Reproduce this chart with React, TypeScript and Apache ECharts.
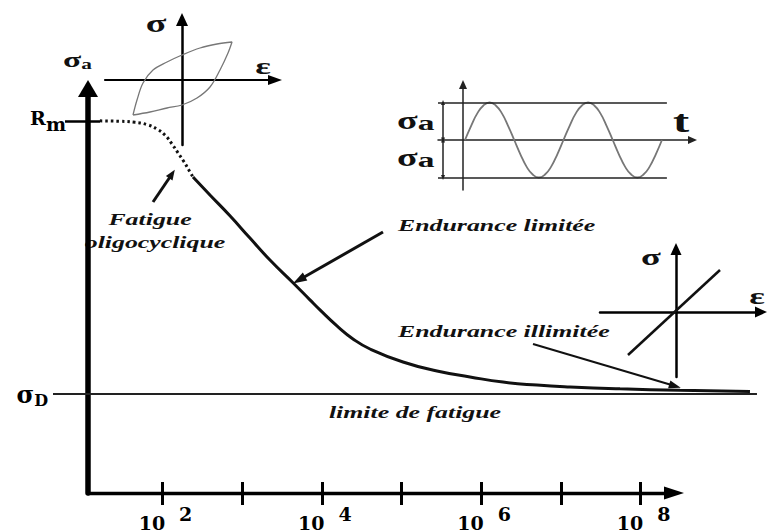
import React, { useEffect, useRef } from 'react';
import * as echarts from 'echarts';

// ---- Main Wöhler curve: x = log10(N), y = stress amplitude σa (Rm = 100) ----
const oligoLogN = [1.215, 1.467, 1.655, 1.805, 1.931, 2.031, 2.119, 2.195, 2.27, 2.345, 2.383];
const oligoStress = [100, 99.9, 99.6, 99.0, 97.8, 96.2, 93.8, 91.4, 89.0, 86.3, 84.9];
const enduranceLogN = [2.383, 2.596, 2.847, 3.098, 3.349, 3.638, 3.851, 3.977, 4.19, 4.391, 4.605, 5.019, 5.446, 5.86, 6.274, 6.701, 7.115, 7.743, 8.496, 9.374];
const enduranceStress = [84.9, 80.1, 74.5, 68.5, 62.6, 56.5, 51.9, 49.2, 44.9, 41.4, 38.7, 35.2, 32.8, 31.2, 29.8, 29.0, 28.5, 28.0, 27.6, 27.3];
const Rm = 100;
const sigmaD = 26.6;
const fatigueLimitLogN = [0.626, 9.462];
const xTickValues = [2, 3, 4, 5, 6, 7, 8];
const xLabelValues = [2, 4, 6, 8];

// ---- Inset: hysteresis loop (ε, σ) ----
const loopStrain = [-49, -45, -39, -29, -15, 0, 18, 35, 50, 46, 38, 28, 15, 0, -15, -32, -49];
const loopStress = [-35, -20, -3, 10, 18, 25, 32, 36, 38, 27, 10, -7, -18, -25, -28, -32, -35];

// ---- Inset: sinusoidal loading σ(t), amplitude σa = 1 ----
const sineT = [0.02, 0.0825, 0.145, 0.2075, 0.27, 0.3325, 0.395, 0.4575, 0.52, 0.5825, 0.645, 0.7075, 0.77, 0.8325, 0.895, 0.9575, 1.02, 1.0825, 1.145, 1.2075, 1.27, 1.3325, 1.395, 1.4575, 1.52, 1.5825, 1.645, 1.7075, 1.77, 1.8325, 1.895, 1.9575, 2.02];
const sineV = [0, 0.38, 0.71, 0.92, 1, 0.92, 0.71, 0.38, 0, -0.38, -0.71, -0.92, -1, -0.92, -0.71, -0.38, 0, 0.38, 0.71, 0.92, 1, 0.92, 0.71, 0.38, 0, -0.38, -0.71, -0.92, -1, -0.92, -0.71, -0.38, 0];
const sigmaA = 1;
const amplitudeLineT = [-0.254, 2.07];
const amplitudeArrowT = -0.203;

// ---- Inset: elastic line (ε, σ) ----
const elasticStrain = [-48, 44];
const elasticStress = [-43, 42];

const SERIF = 'Liberation Serif, Times New Roman, serif';
const WIDE = 'DejaVu Serif, serif';
const SX = 1.52;
const INK = '#111';

function zip(a: number[], b: number[]) {
  return a.map((v, i) => [v, b[i]]);
}

function txt(x: number, y: number, text: string, size: number, align: string, opts: any = {}) {
  return {
    type: 'text',
    x,
    y,
    scaleX: opts.scaleX ?? SX,
    silent: true,
    style: {
      text,
      fontFamily: SERIF,
      fontSize: size,
      fontWeight: 'bold',
      fontStyle: opts.italic ? 'italic' : 'normal',
      fill: opts.fill ?? INK,
      textAlign: align,
      align,
      textVerticalAlign: 'middle',
      verticalAlign: 'middle',
      rich: opts.rich,
    },
  };
}

const hiddenAxis = {
  axisTick: { show: false },
  axisLabel: { show: false },
  splitLine: { show: false },
};

function insetAxis(grid: number, min: number, max: number, width: number, arrow: number[], color = '#000') {
  return {
    type: 'value',
    gridIndex: grid,
    min,
    max,
    ...hiddenAxis,
    axisLine: {
      onZero: true,
      symbol: ['none', 'triangle'],
      symbolSize: arrow,
      lineStyle: { color, width },
    },
  };
}

const sigmaSubRich = (big: number, small: number, down: number) => ({
  s: { fontFamily: SERIF, fontWeight: 'bold', fontSize: big, fill: INK },
  a: { fontFamily: SERIF, fontWeight: 'bold', fontSize: small, fill: INK, padding: [down, 0, 0, 0] },
});

const option: any = {
  animation: false,
  backgroundColor: '#ffffff',
  grid: [
    { left: 88, right: 94, top: 88.5, bottom: 39 },
    { left: 105, right: 493, top: 19.5, bottom: 387 },
    { left: 438, right: 75.5, top: 84.5, bottom: 342 },
    { left: 600, right: 7, top: 249, bottom: 155 },
    // same log(N) scale as the visible axes, wider extent for the curve and σD line
    { left: 53, right: 8, top: 88.5, bottom: 39 },
  ],
  xAxis: [
    {
      type: 'value',
      gridIndex: 0,
      position: 'bottom',
      min: 1.065,
      max: 8.42,
      splitLine: { show: false },
      axisLine: {
        onZero: false,
        symbol: ['none', 'triangle'],
        symbolSize: [13, 20],
        lineStyle: { color: '#000', width: 3.3 },
      },
      axisTick: { show: true, customValues: xTickValues, length: 12, lineStyle: { color: '#000', width: 3 } },
      axisLabel: {
        show: true,
        customValues: xLabelValues,
        margin: 11,
        padding: [0, 0, 0, 6],
        formatter: (v: number) => `{b|10}{s|${v}}`,
        rich: {
          b: { fontFamily: WIDE, fontWeight: 'bold', fontSize: 19, color: '#000', padding: [0, 14, 0, 0] },
          s: { fontFamily: WIDE, fontWeight: 'bold', fontSize: 19, color: '#000', padding: [0, 0, 18, 0] },
        },
      },
    },
    {
      type: 'value',
      gridIndex: 0,
      position: 'bottom',
      min: 1.065,
      max: 8.42,
      splitLine: { show: false },
      axisLine: { show: false, onZero: false },
      axisLabel: { show: false },
      axisTick: { show: true, inside: true, customValues: xTickValues, length: 11, lineStyle: { color: '#000', width: 3 } },
    },
    insetAxis(1, -77, 93, 2.2, [10, 14]),
    insetAxis(2, -0.254, 2.33, 1.5, [8, 9], '#222'),
    insetAxis(3, -76, 85, 2.5, [11, 12]),
    { type: 'value', gridIndex: 4, min: 0.626, max: 9.5, show: false },
  ],
  yAxis: [
    {
      type: 'value',
      gridIndex: 0,
      position: 'left',
      min: 0,
      max: 108.7,
      splitLine: { show: false },
      axisLine: {
        onZero: false,
        symbol: ['none', 'triangle'],
        symbolSize: [20, 17],
        lineStyle: { color: '#000', width: 5.5 },
      },
      axisTick: { show: true, customValues: [Rm], length: 23, lineStyle: { color: '#000', width: 2.5 } },
      axisLabel: {
        show: true,
        customValues: [sigmaD, Rm],
        margin: 22,
        formatter: (v: number) => (v === Rm ? '{r|R}{m|m}' : '{s|σ}{d|D}'),
        rich: {
          r: { fontFamily: WIDE, fontWeight: 'bold', fontSize: 19, color: '#000', padding: [0, 0, 6, 0] },
          m: { fontFamily: WIDE, fontWeight: 'bold', fontSize: 19, color: '#000', padding: [6, 0, 0, 0] },
          s: { fontFamily: WIDE, fontWeight: 'bold', fontSize: 24, color: '#000' },
          d: { fontFamily: WIDE, fontWeight: 'bold', fontSize: 16, color: '#000', padding: [12, 18, 0, 0] },
        },
      },
    },
    {
      type: 'value',
      gridIndex: 0,
      position: 'left',
      min: 0,
      max: 108.7,
      splitLine: { show: false },
      axisLine: { show: false, onZero: false },
      axisLabel: { show: false },
      axisTick: { show: true, inside: true, customValues: [Rm], length: 12, lineStyle: { color: '#000', width: 2.5 } },
    },
    insetAxis(1, -65, 60.5, 2.5, [12, 13]),
    insetAxis(2, -1.333, 1.48, 1.5, [8, 9], '#222'),
    insetAxis(3, -65, 63, 2.5, [11, 12]),
    { type: 'value', gridIndex: 4, min: 0, max: 108.7, show: false },
  ],
  series: [
    {
      name: 'Fatigue oligocyclique',
      type: 'line',
      xAxisIndex: 5,
      yAxisIndex: 5,
      data: zip(oligoLogN, oligoStress),
      smooth: true,
      showSymbol: false,
      silent: true,
      lineStyle: { color: INK, width: 3, type: [2.5, 3] },
    },
    {
      name: 'Endurance',
      type: 'line',
      xAxisIndex: 5,
      yAxisIndex: 5,
      data: zip(enduranceLogN, enduranceStress),
      smooth: true,
      showSymbol: false,
      silent: true,
      lineStyle: { color: INK, width: 3 },
      markLine: {
        silent: true,
        symbol: ['none', 'triangle'],
        label: { show: false },
        emphasis: { disabled: true },
        data: [
          [
            { x: 153, y: 202, lineStyle: { color: INK, width: 3, type: 'solid' } },
            { x: 172, y: 174, symbolSize: [8, 10] },
          ],
          [
            { x: 383, y: 232, lineStyle: { color: INK, width: 3, type: 'solid' } },
            { x: 299, y: 280, symbolSize: [9, 14] },
          ],
          [
            { x: 533, y: 344, lineStyle: { color: INK, width: 2, type: 'solid' } },
            { x: 675, y: 386, symbolSize: [8, 12] },
          ],
        ],
      },
    },
    {
      name: 'limite de fatigue',
      type: 'line',
      xAxisIndex: 5,
      yAxisIndex: 5,
      data: fatigueLimitLogN.map((x) => [x, sigmaD]),
      showSymbol: false,
      silent: true,
      lineStyle: { color: '#222', width: 1.8 },
    },
    {
      name: 'hysteresis',
      type: 'line',
      xAxisIndex: 2,
      yAxisIndex: 2,
      data: zip(loopStrain, loopStress),
      smooth: 0.35,
      showSymbol: false,
      silent: true,
      lineStyle: { color: '#777', width: 1.3 },
    },
    {
      name: 'sigma(t)',
      type: 'line',
      xAxisIndex: 3,
      yAxisIndex: 3,
      data: zip(sineT, sineV),
      smooth: true,
      showSymbol: false,
      silent: true,
      lineStyle: { color: '#777', width: 1.8 },
      markLine: {
        silent: true,
        symbol: ['none', 'none'],
        label: { show: false },
        emphasis: { disabled: true },
        lineStyle: { color: '#222', width: 1.5, type: 'solid' },
        data: [
          [{ coord: [amplitudeLineT[0], sigmaA] }, { coord: [amplitudeLineT[1], sigmaA] }],
          [{ coord: [amplitudeLineT[0], -sigmaA] }, { coord: [amplitudeLineT[1], -sigmaA] }],
          [
            { coord: [amplitudeArrowT, sigmaA], symbol: 'triangle', symbolSize: [4, 5] },
            { coord: [amplitudeArrowT, 0], symbol: 'triangle', symbolSize: [4, 5] },
          ],
          [
            { coord: [amplitudeArrowT, 0], symbol: 'triangle', symbolSize: [4, 5] },
            { coord: [amplitudeArrowT, -sigmaA], symbol: 'triangle', symbolSize: [4, 5] },
          ],
        ],
      },
    },
    {
      name: 'elastic',
      type: 'line',
      xAxisIndex: 4,
      yAxisIndex: 4,
      data: zip(elasticStrain, elasticStress),
      showSymbol: false,
      silent: true,
      lineStyle: { color: INK, width: 2.5 },
    },
  ],
  graphic: [
    // main axis title
    txt(63, 60, '{s|σ}{a|a}', 22, 'left', { rich: sigmaSubRich(22, 14, 8) }),
    // annotations
    txt(150, 220, 'Fatigue', 17, 'center', { italic: true }),
    txt(155, 243, 'oligocyclique', 17, 'center', { italic: true }),
    txt(398, 226, 'Endurance limitée', 17, 'left', { italic: true }),
    txt(398, 332, 'Endurance illimitée', 17, 'left', { italic: true }),
    txt(415, 413, 'limite de fatigue', 17, 'center', { italic: true }),
    // hysteresis inset labels
    txt(156, 23, 'σ', 25, 'center'),
    txt(263, 66, 'ε', 24, 'center'),
    // sine inset labels
    txt(397, 120, '{s|σ}{a|a}', 24, 'left', { rich: sigmaSubRich(25, 22, 6) }),
    txt(397, 157, '{s|σ}{a|a}', 24, 'left', { rich: sigmaSubRich(25, 22, 6) }),
    txt(681, 121, 't', 32, 'center'),
    // elastic inset labels
    txt(651, 257, 'σ', 24, 'center'),
    txt(757, 296, 'ε', 24, 'center'),
  ],
};

export default function App() {
  const ref = useRef<HTMLDivElement>(null);
  useEffect(() => {
    const chart = echarts.init(ref.current as HTMLDivElement, null, { renderer: 'svg', width: 768, height: 532 });
    chart.setOption(option);
    return () => chart.dispose();
  }, []);
  return (
    <div
      ref={ref}
      style={{ position: 'fixed', left: 0, top: 0, width: 768, height: 532, background: '#fff' }}
    />
  );
}
